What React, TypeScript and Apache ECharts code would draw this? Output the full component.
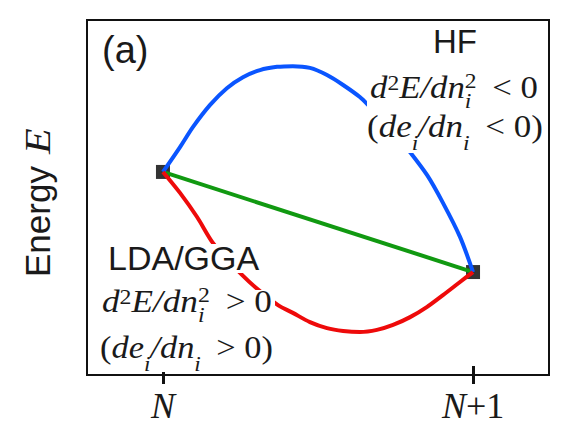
import React, { useEffect, useRef } from 'react';
import * as echarts from 'echarts';

// x: 0 = N, 1 = N+1 ; y: energy (arbitrary units)
const xTicks = [0, 1];
const xTickLabels = ['N', 'N+1'];

const hfX = [0, 0.055, 0.097, 0.152, 0.206, 0.258, 0.313, 0.368, 0.419, 0.474, 0.529, 0.581, 0.635, 0.668, 0.732, 0.787, 0.852, 0.903, 0.958, 1];
const hfY = [57.2, 64.2, 69.9, 76.1, 80.8, 83.9, 85.9, 86.8, 87.0, 86.5, 84.5, 81.7, 78.3, 75.5, 69.9, 63.9, 56.3, 48.5, 38.9, 29.0];

const ldaX = [0, 0.055, 0.11, 0.161, 0.21, 0.255, 0.297, 0.371, 0.419, 0.474, 0.529, 0.581, 0.635, 0.69, 0.742, 0.797, 0.852, 0.903, 0.958, 1];
const ldaY = [57.2, 51.3, 44.5, 37.2, 32.4, 28.2, 24.8, 19.7, 17.5, 14.9, 13.2, 12.4, 12.1, 12.7, 14.1, 16.3, 19.2, 22.5, 26.2, 29.0];

const linX = [0, 1];
const linY = [57.2, 29.0];

const endX = [0, 1];
const endY = [57.2, 29.0];

type Piece = { t: string; it?: boolean; sm?: boolean; dy?: number; stack?: boolean };

const SERIF = '"Liberation Serif", "Times New Roman", serif';
const SANS = '"Liberation Sans", Arial, sans-serif';
const INK = '#1a1a1a';

let ctx: CanvasRenderingContext2D | null = null;
function measure(t: string, font: string) {
  if (!ctx) ctx = document.createElement('canvas').getContext('2d');
  if (!ctx) return t.length * 10;
  ctx.font = font;
  return ctx.measureText(t).width;
}

function formula(pieces: Piece[], x0: number, base: number, targetW: number, big: number, small: number, boxTop: number, boxBottom: number) {
  let x = 0;
  let pending = 0;
  const els: any[] = [];
  for (const p of pieces) {
    const size = p.sm ? small : big;
    const font = `${p.it ? 'italic ' : ''}${size}px ${SERIF}`;
    const w = measure(p.t, font);
    els.push({
      type: 'text',
      z: 12,
      x,
      y: (p.dy || 0) - 0.34 * size,
      style: { text: p.t, font, fill: INK, align: 'left', verticalAlign: 'middle' },
    });
    if (p.stack) {
      pending = Math.max(pending, w);
    } else {
      x += Math.max(w, pending);
      pending = 0;
    }
  }
  const sx = targetW / x;
  return [
    { type: 'rect', z: 10, shape: { x: x0 - 3, y: boxTop, width: targetW + 6, height: boxBottom - boxTop }, style: { fill: '#fff' } },
    { type: 'group', z: 12, x: x0, y: base, scaleX: sx, children: els },
  ];
}

function line1(op: string): Piece[] {
  return [
    { t: 'd', it: true },
    { t: '2', sm: true, dy: -8 },
    { t: 'E/dn', it: true },
    { t: '2', sm: true, dy: -10, stack: true },
    { t: 'i', it: true, sm: true, dy: 10 },
    { t: ` \u2009${op} 0` },
  ];
}
function line2(op: string): Piece[] {
  return [
    { t: '(' },
    { t: 'de', it: true },
    { t: 'i', it: true, sm: true, dy: 13 },
    { t: '/dn', it: true },
    { t: 'i', it: true, sm: true, dy: 13 },
    { t: ` \u2009${op} 0)` },
  ];
}

export default function App() {
  const ref = useRef<HTMLDivElement>(null);
  useEffect(() => {
    if (!ref.current) return;
    const chart = echarts.init(ref.current, undefined, { renderer: 'svg' });
    const toPairs = (xs: number[], ys: number[]) => xs.map((x, i) => [x, ys[i]]);
    const tickFmt = (v: number) => {
      const idx = xTicks.indexOf(v);
      const lbl = idx >= 0 ? xTickLabels[idx] : '';
      return '{i|' + lbl.slice(0, 1) + '}' + (lbl.length > 1 ? '{r|' + lbl.slice(1) + '}' : '');
    };
    const energyW = measure('Energy', `35px ${SANS}`);
    const graphics: any[] = [
      ...formula(line1('<'), 370, 98, 168, 31, 21, 71, 114),
      ...formula(line2('<'), 367, 137, 176, 31, 21, 114, 153),
      ...formula(line1('>'), 102, 312, 170, 31, 21, 290, 324),
      ...formula(line2('>'), 100, 358, 173, 31, 21, 324, 372),
      { type: 'rect', z: 10, shape: { x: 429, y: 26, width: 52, height: 32 }, style: { fill: '#fff' } },
      { type: 'text', z: 12, x: 455, y: 53 - 0.35 * 33, style: { text: 'HF', font: `33px ${SANS}`, fill: INK, align: 'center', verticalAlign: 'middle' } },
      { type: 'rect', z: 10, shape: { x: 106, y: 244, width: 162, height: 29 }, style: { fill: '#fff' } },
      { type: 'text', z: 12, x: 108, y: 270 - 0.35 * 34, style: { text: 'LDA/GGA', font: `34px ${SANS}`, fill: INK, align: 'left', verticalAlign: 'middle' } },
      { type: 'text', z: 12, x: 102, y: 63 - 0.35 * 38, style: { text: '(a)', font: `38px ${SANS}`, fill: INK, align: 'left', verticalAlign: 'middle' } },
      {
        type: 'group',
        z: 12,
        x: 50,
        y: 277,
        rotation: Math.PI / 2,
        children: [
          { type: 'text', z: 12, x: 0, y: -0.35 * 35, style: { text: 'Energy', font: `35px ${SANS}`, fill: INK, align: 'left', verticalAlign: 'middle' } },
          { type: 'text', z: 12, x: energyW + 12, y: -0.34 * 35, scaleX: 1.2, style: { text: 'E', font: `italic 35px ${SERIF}`, fill: INK, align: 'left', verticalAlign: 'middle' } },
        ],
      },
    ];
    chart.setOption({
      animation: false,
      backgroundColor: '#fff',
      grid: { left: 87, right: 13, top: 20, bottom: 60, show: true, borderColor: '#111', borderWidth: 2, backgroundColor: 'transparent' },
      xAxis: {
        type: 'value',
        min: -0.245,
        max: 1.245,
        offset: -9,
        splitLine: { show: false },
        axisLine: { show: false },
        axisTick: { show: true, customValues: xTicks, length: 18, lineStyle: { color: '#111', width: 3 } },
        axisLabel: {
          show: true,
          customValues: xTicks,
          formatter: tickFmt,
          margin: 22,
          rich: {
            i: { fontFamily: SERIF, fontStyle: 'italic', fontSize: 36, color: INK },
            r: { fontFamily: SERIF, fontSize: 36, color: INK },
          },
        },
      },
      yAxis: {
        type: 'value',
        min: 0,
        max: 100,
        axisLine: { show: false },
        axisTick: { show: false },
        axisLabel: { show: false },
        splitLine: { show: false },
      },
      series: [
        {
          type: 'scatter',
          z: 1,
          symbol: 'rect',
          symbolSize: 14,
          itemStyle: { color: '#000' },
          data: toPairs(endX, endY),
        },
        {
          type: 'line',
          z: 3,
          data: toPairs(linX, linY),
          symbol: 'none',
          lineStyle: { color: '#119911', width: 4 },
        },
        {
          type: 'line',
          z: 3,
          data: toPairs(hfX, hfY),
          smooth: 0.3,
          symbol: 'none',
          lineStyle: { color: '#0a55ff', width: 4 },
        },
        {
          type: 'line',
          z: 3,
          data: toPairs(ldaX, ldaY),
          smooth: 0.3,
          symbol: 'none',
          lineStyle: { color: '#ee0a0a', width: 4 },
        },
      ],
      graphic: graphics,
    });
    return () => chart.dispose();
  }, []);
  return <div ref={ref} style={{ position: 'fixed', left: 0, top: 0, width: 562, height: 435 }} />;
}
